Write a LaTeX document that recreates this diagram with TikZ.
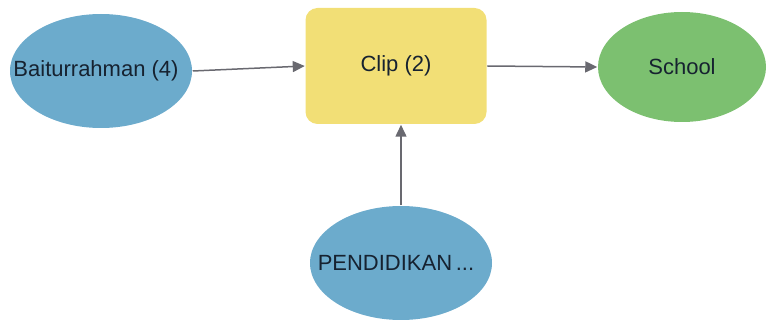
\documentclass[tikz,border=0pt]{standalone}
\usepackage{fontspec}
\setmainfont{Liberation Sans}
\usepackage{tikz}
\usetikzlibrary{shapes.geometric, arrows.meta}
\definecolor{inblue}{RGB}{108,171,204}
\definecolor{algyellow}{RGB}{242,223,118}
\definecolor{outgreen}{RGB}{124,192,112}
\definecolor{txtdark}{RGB}{22,34,48}
\definecolor{linkgray}{RGB}{105,105,112}

\begin{document}
\begin{tikzpicture}[x=0.5pt, y=-0.5pt, line width=0.75pt,
    font=\fontsize{11}{13}\selectfont, text=txtdark,
    inp/.style={ellipse, fill=inblue, inner sep=0pt, minimum width=91pt, minimum height=57pt},
    alg/.style={rectangle, rounded corners=6pt, fill=algyellow, minimum width=90.5pt, minimum height=58pt},
    outp/.style={ellipse, fill=outgreen, inner sep=0pt, minimum width=84pt, minimum height=55pt},
    link/.style={draw=linkgray, -{Triangle[length=6pt, width=5.5pt]}}]
    \useasboundingbox (0,0) rectangle (771,320);

    \node[inp, label={[xshift=-2.5pt]center:Baiturrahman (4)}](bait) at (101,71) {};
    \node[alg](clip) at (396,66) {Clip (2)};
    \node[outp, label={center:School}](school) at (682,67) {};
    \node[inp, label={[xshift=-2.5pt]center:PENDIDIKAN\,...}](pend) at (401,263) {};

    \draw[link] (bait.east) -- (clip.west);
    \draw[link] (clip.east) -- (school.west);
    \draw[link] (pend.north) -- (pend.north |- clip.south);
  \end{tikzpicture}
\end{document}
